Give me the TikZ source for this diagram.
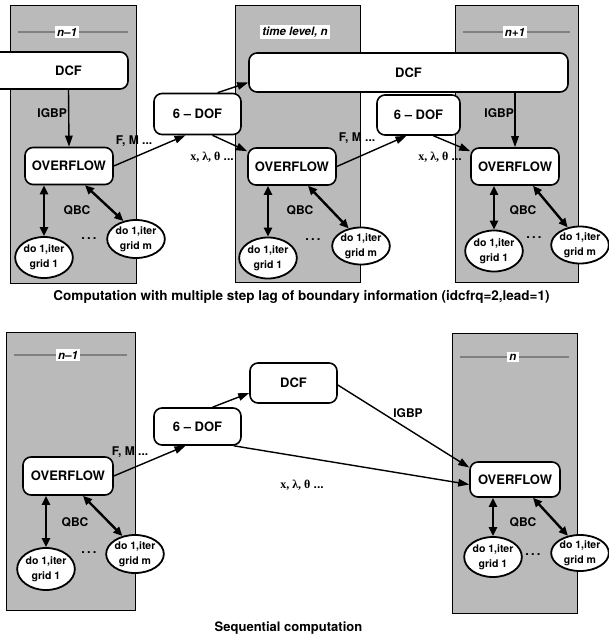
\documentclass[tikz,border=0pt]{standalone}
\usepackage{fontspec}
\setmainfont{TeX Gyre Heros}
\newfontfamily\symfnt{Liberation Serif}
\usetikzlibrary{arrows.meta,calc,shapes.geometric}
\begin{document}
\begin{tikzpicture}[x=1pt,y=-1pt,
 panel/.style={draw=black,line width=0.8pt,fill=black!27},
 box/.style={draw,line width=1.6pt,rounded corners=8pt,fill=white,font=\fontsize{13}{15}\selectfont\bfseries,minimum width=88pt,minimum height=37pt,inner sep=0pt},
 gridnode/.style={ellipse,draw,line width=1.8pt,fill=white,minimum width=48pt,minimum height=41pt,inner sep=0pt,align=center,font=\fontsize{10.5}{15}\selectfont\bfseries},
 lab/.style={font=\fontsize{12}{14}\selectfont\bfseries,inner sep=1pt},
 dots/.style={font=\fontsize{13}{13}\selectfont\bfseries,inner sep=0pt},
 tlab/.style={fill=white,font=\fontsize{11.5}{13}\selectfont\bfseries\itshape,inner sep=2pt},
 flow/.style={line width=1.4pt,-{Triangle[length=11pt,width=7.5pt]}},
 qbc/.style={line width=2.4pt,{Triangle[length=9pt,width=8pt]}-{Triangle[length=9pt,width=8pt]}},
 band/.style={line width=2.5pt,black!50},
 capt/.style={font=\fontsize{13.5}{15}\selectfont\bfseries}
]
\useasboundingbox (0,0) rectangle (608,642);

% ---------- panels ----------
\draw[panel] (10,5) rectangle (136,283);
\draw[panel] (235,5) rectangle (360,282);
\draw[panel] (455,5) rectangle (578,282);
\draw[panel] (6,332) rectangle (135,610);
\draw[panel] (452,333) rectangle (577,613);

% bands behind the level labels
\draw[band] (18,32) -- (128,32);
\draw[band] (463,32) -- (570,32);
\draw[band] (14,355) -- (127,355);
\draw[band] (460,357) -- (569,357);

% level labels
\node[tlab] (l1) at (67,32) {n–1};
\node[tlab] (l2) at (295,32) {time level, n};
\node[tlab] (l3) at (515,32) {n+1};
\node[tlab] (l4) at (68,355) {n–1};
\node[tlab] (l5) at (513,357) {n};

% ---------- top row ----------
\draw[line width=1.6pt,fill=white,rounded corners=8pt] (-12,52) -- (128,52) -- (128,89) -- (-12,89);
\node[font=\fontsize{13}{15}\selectfont\bfseries,minimum height=37pt,inner sep=0pt] (dcf1) at (68.5,70.5) {DCF};
\node[box,minimum width=319pt,minimum height=39pt] (dcf2) at (408.5,72.5) {DCF};

\node[box] (ov1) at (69,166) {OVERFLOW};
\node[box] (ov2) at (292,166.5) {OVERFLOW};
\node[box] (ov3) at (515,166.5) {OVERFLOW};
\node[box,minimum width=87pt,minimum height=41pt] (dof1) at (197.5,114) {6 – DOF};
\node[box,minimum width=83pt,minimum height=40pt] (dof2) at (418.5,115) {6 – DOF};

\node[gridnode] (g1a) at (44,257.5) {do 1,iter\\grid 1};
\node[gridnode,minimum height=38pt,minimum width=52pt] (gma) at (136,239) {do 1,iter\\grid m};
\node[gridnode] (g1b) at (268,258) {do 1,iter\\grid 1};
\node[gridnode,minimum height=37pt,minimum width=48pt] (gmb) at (361,246) {do 1,iter\\grid m};
\node[gridnode] (g1c) at (494,251) {do 1,iter\\grid 1};
\node[gridnode,minimum height=37pt,minimum width=48pt] (gmc) at (580,245) {do 1,iter\\grid m};

\node[dots] (d1) at (89,239) {.\,.\,.};
\node[dots] (d2) at (313,240) {.\,.\,.};
\node[dots] (d3) at (534,238) {.\,.\,.};

\node[lab,anchor=east] (igbp1) at (68,113) {IGBP};
\node[lab,anchor=east] (igbp3) at (515,113) {IGBP};
\node[lab] (q1) at (77,210) {QBC};
\node[lab] (q2) at (300,210) {QBC};
\node[lab] (q3) at (523,210) {QBC};
\node[lab] (fm1) at (134,141) {F, M ...};
\node[lab] (fm2) at (357,138) {F, M ...};
\node[lab] (xl1) at (212,157) {{\symfnt\bfseries x, λ, θ} ...};
\node[lab] (xl2) at (440,157) {{\symfnt\bfseries x, λ, θ} ...};

\draw[flow] (dcf1.south) -- (ov1.north);
\draw[flow] (ov3.north |- dcf2.south) -- (ov3.north);
\draw[flow] (ov1.east) -- ($(dof1.south)+(-12,0)$);
\draw[flow] (ov2.east) -- ($(dof2.south)+(-12,0)$);
\draw[flow] ($(dof1.north)+(20,0)$) -- ($(dcf2.west)+(0,10)$);
\draw[flow] ($(dof1.south)+(15,0)$) -- ($(ov2.north west)+(0,4)$);
\draw[flow] ($(dof2.south)+(15,0)$) -- ($(ov3.north west)+(0,4)$);

\draw[qbc] (ov1.south -| g1a.north) -- (g1a.north);
\draw[qbc] (ov2.south -| g1b.north) -- (g1b.north);
\draw[qbc] (ov3.south -| g1c.north) -- (g1c.north);
\draw[qbc] ($(ov1.south)+(16,0)$) -- (gma.125);
\draw[qbc] ($(ov2.south)+(16,0)$) -- (gmb.125);
\draw[qbc] ($(ov3.south)+(18,0)$) -- (gmc.125);

\node[capt] (cap1) at (301.5,297) {Computation with multiple step lag of boundary information (idcfrq=2,lead=1)};

% ---------- bottom row ----------
\node[box,minimum width=90pt,minimum height=38pt] (ov4) at (68,476) {OVERFLOW};
\node[box,minimum width=90pt,minimum height=35pt] (ov5) at (515,479.5) {OVERFLOW};
\node[box,minimum width=87pt,minimum height=37pt] (dof3) at (197.5,426.5) {6 – DOF};
\node[box,minimum width=87pt,minimum height=40pt] (dcf3) at (293.5,383) {DCF};

\node[gridnode,minimum width=50pt,minimum height=42pt] (g1d) at (46,569) {do 1,iter\\grid 1};
\node[gridnode,minimum height=38pt,minimum width=50pt] (gmd) at (135,554) {do 1,iter\\grid m};
\node[gridnode,minimum width=48pt,minimum height=40pt] (g1e) at (493,557) {do 1,iter\\grid 1};
\node[gridnode,minimum height=36pt,minimum width=47pt] (gme) at (580,553) {do 1,iter\\grid m};

\node[dots] (d4) at (89,553) {.\,.\,.};
\node[dots] (d5) at (533,555) {.\,.\,.};

\node[lab] (q4) at (75,522) {QBC};
\node[lab] (q5) at (523,522) {QBC};
\node[lab] (fm3) at (130,452) {F, M ...};
\node[lab] (xl3) at (302,485) {{\symfnt\bfseries x, λ, θ} ...};
\node[lab] (igbp5) at (408,413) {IGBP};

\draw[flow] (ov4.east) -- ($(dof3.south)+(-12,0)$);
\draw[flow] ($(dof3.north)+(15,0)$) -- ($(dcf3.west)+(0,10)$);
\draw[flow] ($(dof3.south east)+(-8,0)$) -- ($(ov5.west)+(0,5)$);
\draw[flow] ($(dcf3.east)+(0,2)$) -- ($(ov5.west)+(0,-12)$);

\draw[qbc] (ov4.south -| g1d.north) -- (g1d.north);
\draw[qbc] (ov5.south -| g1e.north) -- (g1e.north);
\draw[qbc] ($(ov4.south)+(15,0)$) -- (gmd.125);
\draw[qbc] ($(ov5.south)+(18,0)$) -- (gme.125);

\node[capt,font=\fontsize{13}{15}\selectfont\bfseries] (cap2) at (288.5,628) {Sequential computation};
\end{tikzpicture}
\end{document}
